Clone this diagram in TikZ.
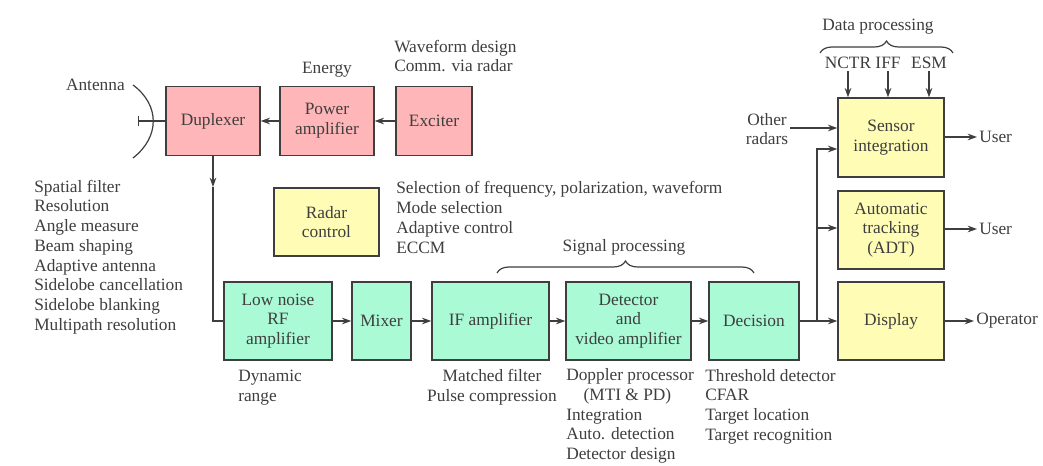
\documentclass[tikz,border=0pt]{standalone}
\usepackage{fontspec}
\setmainfont{Liberation Serif}
\usetikzlibrary{arrows.meta,decorations.pathreplacing}
\definecolor{inkgray}{RGB}{62,62,62}
\definecolor{boxpink}{RGB}{255,182,184}
\definecolor{boxyellow}{RGB}{255,252,182}
\definecolor{boxgreen}{RGB}{170,250,214}
\begin{document}
\begin{tikzpicture}[x=0.75pt,y=-0.75pt,color=inkgray,font=\fontsize{13}{14.8}\selectfont]
\tikzstyle{box}=[draw,line width=1.1pt,align=center,inner sep=2pt]
\tikzstyle{txbox}=[box,fill=boxpink,minimum height=51.75pt]
\tikzstyle{ctlbox}=[box,fill=boxyellow,minimum width=79.5pt,minimum height=58.5pt]
\tikzstyle{rxbox}=[box,fill=boxgreen,minimum height=58.5pt]
\tikzstyle{note}=[align=left,inner sep=1.5pt]
\tikzstyle{wire}=[line width=0.9pt]
\tikzstyle{arr}=[wire,-{Stealth[length=7pt,width=5pt]}]
\tikzstyle{brc}=[wire,decorate,decoration={brace,amplitude=9pt}]
\useasboundingbox (0,0) rectangle (1043,466);
\node[txbox,minimum width=70.5pt] (dup) at (213,121) {Duplexer};
\node[txbox,minimum width=70.5pt] (pa) at (327,121) {Power\\amplifier};
\node[txbox,minimum width=57pt] (exc) at (434,121) {Exciter};
\node[ctlbox,minimum width=78.75pt,minimum height=51pt] (rc) at (326.5,222) {Radar\\control};
\node[rxbox,minimum width=81pt] (lna) at (278,321) {Low noise\\RF\\amplifier};
\node[rxbox,minimum width=44.25pt] (mix) at (381.5,321) {Mixer};
\node[rxbox,minimum width=87.75pt] (ifa) at (490.5,321) {IF amplifier};
\node[rxbox,minimum width=93.75pt] (det) at (628.5,321) {Detector\\and\\video amplifier};
\node[rxbox,minimum width=67.5pt] (dec) at (754,321) {Decision};
\node[ctlbox] (disp) at (891,321) {Display};
\node[ctlbox] (adt) at (891,230) {Automatic\\tracking\\(ADT)};
\node[ctlbox,minimum height=59.25pt] (sen) at (891,137.5) {Sensor\\integration};
\node[note,anchor=east] (ant) at (127,85) {Antenna};
\node[note] (enr) at (327,70) {Energy};
\node[note,anchor=west] (wav) at (392,56) {Waveform design\\Comm. via radar};
\node[note,anchor=west] (spf) at (32,257) {Spatial filter\\Resolution\\Angle measure\\Beam shaping\\Adaptive antenna\\Sidelobe cancellation\\Sidelobe blanking\\Multipath resolution};
\node[note,anchor=west] (sel) at (394,217.5) {Selection of frequency, polarization, waveform\\Mode selection\\Adaptive control\\ECCM};
\node[note] (sigp) at (624,247) {Signal processing};
\node[note,anchor=west] (dyn) at (236,387.5) {Dynamic\\range};
\node[note,align=center] (mf) at (492,387.5) {Matched filter\\Pulse compression};
\node[note,anchor=west] (dop) at (564,416) {Doppler processor\\\hspace*{1em}(MTI \& PD)\\Integration\\Auto. detection\\Detector design};
\node[note,anchor=west] (thr) at (703,406.5) {Threshold detector\\CFAR\\Target location\\Target recognition};
\node[note] (datp) at (878,27) {Data processing};
\node[note] (nctr) at (848,63) {NCTR};
\node[note] (iff) at (888,63) {IFF};
\node[note] (esm) at (929,63) {ESM};
\node[note,align=center] (oth) at (767,129) {Other\\radars};
\node[note,anchor=west] (usr1) at (977,137) {User};
\node[note,anchor=west] (usr2) at (977,229) {User};
\node[note,anchor=west] (opr) at (974,321) {Operator};
\coordinate (feed) at (138,121);
\coordinate (dn) at (213,187);
\coordinate (br) at (817,321);
\coordinate (sp1) at (497,273);
\coordinate (sp2) at (754,273);
\coordinate (dp1) at (820,53);
\coordinate (dp2) at (953,53);
\draw[wire] (133,85) .. controls (160,105) and (160,137) .. (133,158);
\draw[wire,{Bar[width=8pt]}-] (feed) -- (dup);
\draw[arr] (pa) -- (dup);
\draw[arr] (exc) -- (pa);
\draw[arr] (dup) -- (dn);
\draw[wire] (dn) |- (lna);
\draw[arr] (lna) -- (mix);
\draw[arr] (mix) -- (ifa);
\draw[arr] (ifa) -- (det);
\draw[arr] (det) -- (dec);
\draw[wire] (dec) -- (br);
\draw[arr] (br) -- (disp);
\draw[arr] (br) |- (adt.west |- 0,228);
\draw[arr] (br) |- (sen.west |- 0,149);
\draw[arr] (oth.east |- 0,128) -- (sen.west |- 0,128);
\draw[arr] (nctr) -- (sen.north -| nctr);
\draw[arr] (iff) -- (sen.north -| iff);
\draw[arr] (esm) -- (sen.north -| esm);
\draw[arr] (sen.east |- usr1) -- (usr1);
\draw[arr] (adt.east |- usr2) -- (usr2);
\draw[arr] (disp) -- (opr);
\draw[brc] (sp1) -- (sp2);
\draw[brc] (dp1) -- (dp2);
\end{tikzpicture}
\end{document}
